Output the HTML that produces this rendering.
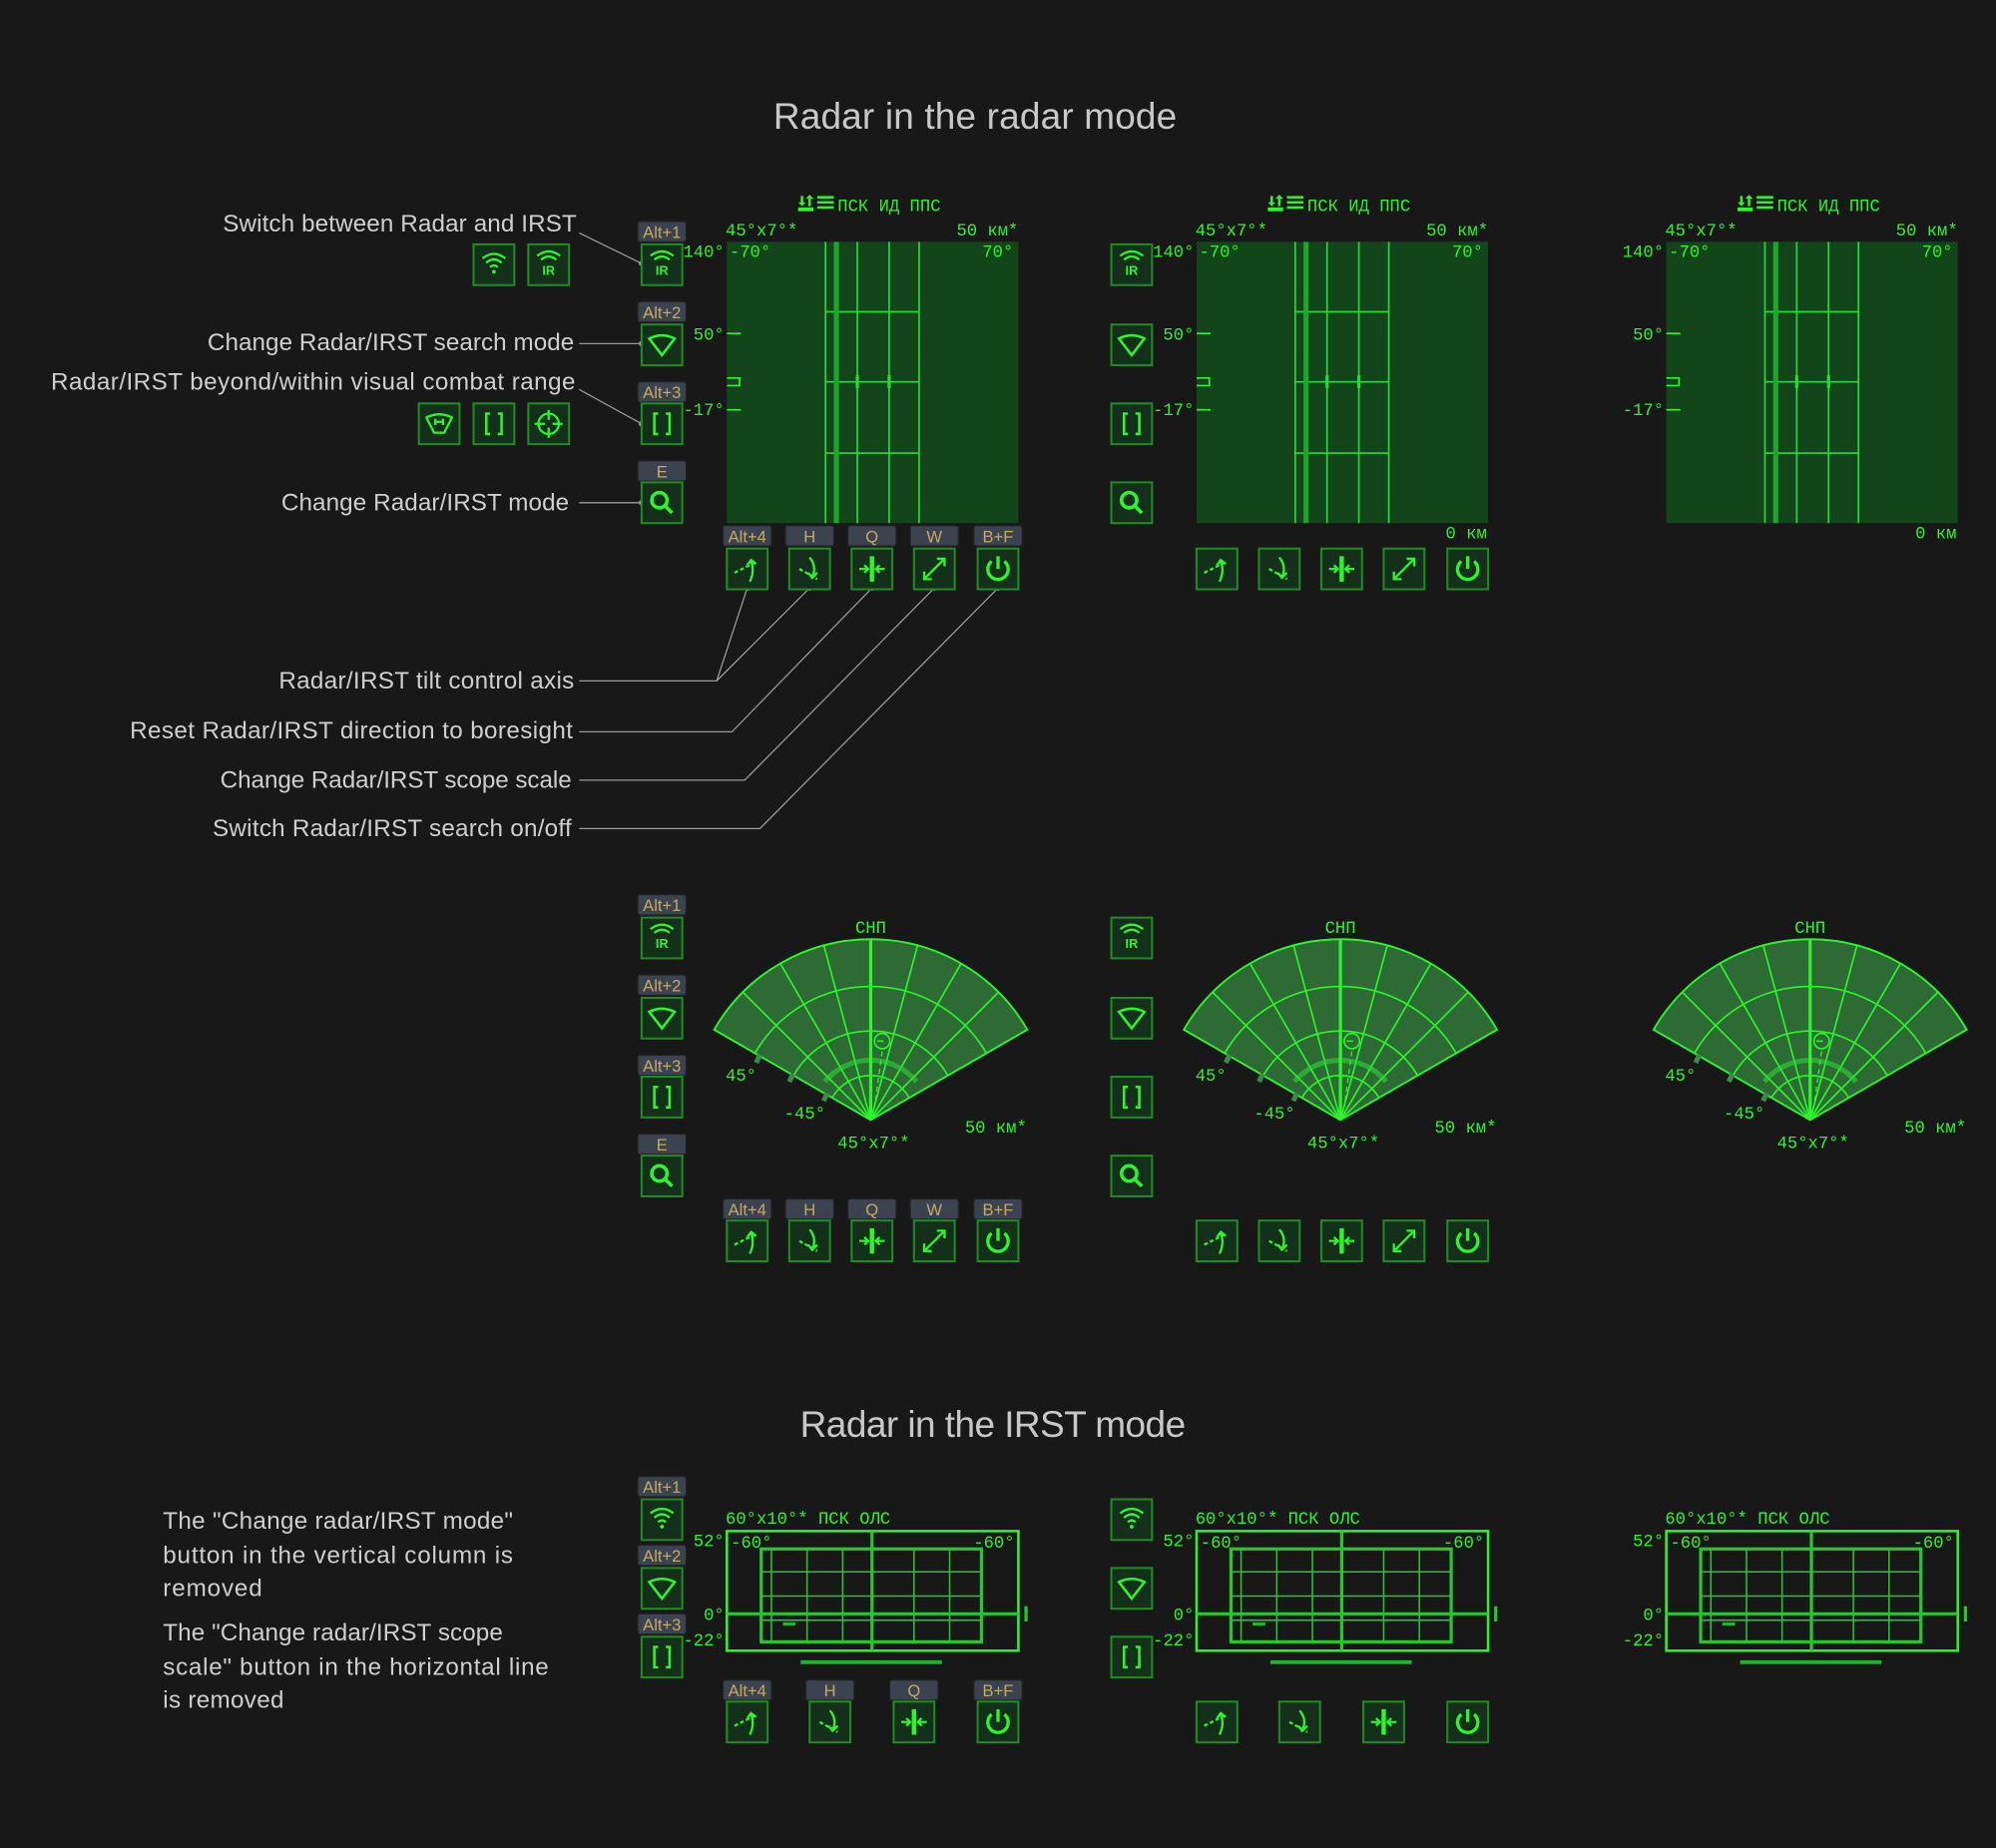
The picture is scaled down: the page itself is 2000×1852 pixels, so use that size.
<!DOCTYPE html>
<html><head><meta charset="utf-8"><style>
html,body{margin:0;padding:0;background:#181818;}
svg{display:block}
.t{font-family:"Liberation Sans",sans-serif;fill:#cfcfcf;font-size:19px}
.h{font-family:"Liberation Sans",sans-serif;fill:#c8c8c8;font-size:29px}
.g{font-family:"Liberation Mono",monospace;fill:#2bf52b;font-size:13.5px}
.k{font-family:"Liberation Sans",sans-serif;fill:#c9a85e;font-size:13px}
.ir{font-family:"Liberation Sans",sans-serif;fill:#2bf52b;font-size:10px;font-weight:bold}
</style></head><body>
<svg width="2000" height="1852" viewBox="0 0 1568 1452" xmlns="http://www.w3.org/2000/svg">
<defs>
<g id="btn"><rect x="-16" y="-16" width="32" height="32" fill="#15301a" stroke="#1e8c22" stroke-width="1.6"/></g>
<g id="key"><rect x="-19" y="-8" width="38" height="16" rx="2" fill="#3b4350" stroke="#222" stroke-width="1"/></g>
<g id="arcs" fill="none" stroke="#2bf52b" stroke-width="1.8"><path d="M-9,-5 Q0,-12 9,-5"/><path d="M-6,-2 Q0,-7 6,-2"/></g>
<g id="wifi" fill="none" stroke="#2bf52b" stroke-width="1.8"><path d="M-9,-5 Q0,-12 9,-5"/><path d="M-6,-1.5 Q0,-7 6,-1.5"/><path d="M-3,2 Q0,-1 3,2"/><circle cx="0" cy="5.5" r="1.5" fill="#2bf52b" stroke="none"/></g>
<g id="wedge" fill="none" stroke="#2bf52b" stroke-width="2"><path d="M-10,-5 Q0,-10 10,-5 L0,8 Z"/></g>
<g id="brk" fill="none" stroke="#2bf52b" stroke-width="2"><path d="M-3,-8 H-6 V8 H-3 M3,-8 H6 V8 H3"/></g>
<g id="srch" fill="none" stroke="#2bf52b" stroke-width="2.8"><circle cx="-2" cy="-2" r="6"/><path d="M2.5,2.5 L8,8"/></g>
<g id="tup" fill="none" stroke="#2bf52b" stroke-width="1.8"><path d="M-10,3 L6,-5" stroke-dasharray="3 2"/><path d="M2,10 Q6,2 3,-6 M0,-3 L3,-7 L7,-4"/></g>
<g id="tdn" fill="none" stroke="#2bf52b" stroke-width="1.8"><path d="M-8,0 L6,8" stroke-dasharray="3 2"/><path d="M0,-9 Q6,-2 2,7 M-1,3 L2,7 L6,3"/></g>
<g id="ctr" fill="none" stroke="#2bf52b" stroke-width="1.8"><path d="M0,-10 V10" stroke-width="3.5"/><path d="M-10,0 H-3 M-6,-3 L-3,0 L-6,3 M10,0 H3 M6,-3 L3,0 L6,3"/></g>
<g id="scl" fill="none" stroke="#2bf52b" stroke-width="1.8"><path d="M-8,8 L8,-8 M-8,2 V8 H-2 M2,-8 H8 V-2"/></g>
<g id="pwr" fill="none" stroke="#2bf52b" stroke-width="2.6"><path d="M0,-10 V0"/><path d="M-5,-6 A8,8 0 1 0 5,-6"/></g>
<g id="bvr" fill="none" stroke="#2bf52b" stroke-width="1.8"><path d="M-10,-5 Q0,-10 10,-5 L4,7 H-4 Z"/><path d="M-3,-4 V1 M3,-4 V1 M-3,-1.5 H3"/></g>
<g id="tgt" fill="none" stroke="#2bf52b" stroke-width="1.8"><circle r="8"/><path d="M0,-11 V-3 M0,3 V11 M-11,0 H-3 M3,0 H11"/></g>
<g id="scr">
<rect x="571" y="190" width="229" height="221" fill="#12461a"/>
<g stroke="#2bd83b" stroke-width="1.3" fill="none">
<path d="M648.5,190V411 M673.5,190V411 M698.5,190V411 M722,190V411"/>
<path d="M648.5,245H722 M648.5,300H722 M648.5,356H722"/>
</g>
<path d="M657,190V411" stroke="#1fa62a" stroke-width="4"/>
<path d="M673.5,295V305 M698.5,295V305" stroke="#2bd83b" stroke-width="2.5"/>
<g stroke="#2bf52b" stroke-width="1.3" fill="none"><path d="M571,262H582 M571,322H582 M571,297H581V303H571"/></g>
</g>
<g id="hdr"><g fill="#2bf52b"><rect x="627" y="163" width="12" height="3"/><path d="M629,154h2v5h2l-3,3l-3,-3h2z M635,162v-6h-2l3,-3l3,3h-2v6z"/><rect x="642" y="154" width="13" height="2"/><rect x="642" y="158" width="13" height="2"/><rect x="642" y="162" width="13" height="2"/></g></g>
<g id="sector">
<path d="M684,880 L561,809 A142,142 0 0 1 807,809 Z" fill="#2e6a34" stroke="#2bf52b" stroke-width="1.5"/>
<g fill="none" stroke="#2bf52b" stroke-width="1.3">
<path d="M593.1,827.5 A105,105 0 0 1 774.9,827.5"/>
<path d="M623.4,845 A70,70 0 0 1 744.6,845"/>
<path d="M653.7,862.5 A35,35 0 0 1 714.3,862.5"/>
<path d="M684,880 L720.8,742.8 M684,880 L647.2,742.8 M684,880 L755,757 M684,880 L613,757 M684,880 L784.4,779.6 M684,880 L583.6,779.6"/>
<circle cx="693" cy="818" r="6"/><path d="M689,818h5"/>
</g>
<path d="M648,849.8 A47,47 0 0 1 720,849.8" fill="none" stroke="#2bd83b" stroke-width="4" opacity="0.6"/>
<path d="M684,880 V738" stroke="#2bf52b" stroke-width="2.5"/>
<path d="M693,826 L687,870" stroke="#2bf52b" stroke-width="1" stroke-dasharray="4 3"/>
<g stroke="#3a8a4a" stroke-width="4"><path d="M597,829l-3,6 M623,844l-3,6 M650,859l-3,6"/></g>
</g>
<g id="irs">
<rect x="571" y="1203" width="229" height="94" fill="none" stroke="#2bf52b" stroke-width="2"/>
<rect x="598" y="1217" width="173" height="73" fill="none" stroke="#26c830" stroke-width="2.5"/>
<g stroke="#26c830" stroke-width="1.2"><path d="M606,1217V1290 M634,1217V1290 M662,1217V1290 M718,1217V1290 M746,1217V1290 M598,1235H771 M598,1254H771 M598,1273H771"/></g>
<path d="M685,1203V1297 M571,1268H800" stroke="#26c830" stroke-width="2.5"/>
<path d="M615,1276H625" stroke="#26b030" stroke-width="2.5"/>
<path d="M806,1262V1274" stroke="#26c830" stroke-width="2.5"/>
<path d="M629,1306H740" stroke="#26b030" stroke-width="3"/>
</g>
</defs>

<text class="h" x="766" y="101" text-anchor="middle" textLength="317">Radar in the radar mode</text>
<text class="h" x="780" y="1129" text-anchor="middle" textLength="303">Radar in the IRST mode</text>

<g class="t" text-anchor="end">
<text x="453" y="182" textLength="278">Switch between Radar and IRST</text>
<text x="451" y="275" textLength="288">Change Radar/IRST search mode</text>
<text x="452" y="306" textLength="412">Radar/IRST beyond/within visual combat range</text>
<text x="447" y="401" textLength="226">Change Radar/IRST mode</text>
<text x="451" y="541" textLength="232">Radar/IRST tilt control axis</text>
<text x="450" y="580" textLength="348">Reset Radar/IRST direction to boresight</text>
<text x="449" y="619" textLength="276">Change Radar/IRST scope scale</text>
<text x="449" y="657" textLength="282">Switch Radar/IRST search on/off</text>
</g>
<g class="t">
<text x="128" y="1201" textLength="275">The "Change radar/IRST mode"</text>
<text x="128" y="1228" textLength="275">button in the vertical column is</text>
<text x="128" y="1254" textLength="78">removed</text>
<text x="128" y="1289" textLength="267">The "Change radar/IRST scope</text>
<text x="128" y="1316" textLength="303">scale" button in the horizontal line</text>
<text x="128" y="1342" textLength="95">is removed</text>
</g>
<use href="#btn" x="388" y="208"/><use href="#wifi" x="388" y="208"/>
<use href="#btn" x="431" y="208"/><use href="#arcs" x="431" y="206"/><text class="ir" x="431" y="216" text-anchor="middle">IR</text>
<use href="#btn" x="345" y="333"/><use href="#bvr" x="345" y="333"/>
<use href="#btn" x="388" y="333"/><use href="#brk" x="388" y="333"/>
<use href="#btn" x="431" y="333"/><use href="#tgt" x="431" y="333"/>

<g fill="none" stroke="#9a9a9a" stroke-width="1">
<path d="M455,183 L504,207 M455,270 H504 M455,306 L504,333 M455,395 H504"/>
<path d="M455,535 H563 L587,462 M563,535 L636,462 M455,575 H575 L685,462 M455,613 H585 L734,462 M455,651 H597 L784,462"/>
</g>
<g fill="#9a9a9a"><circle cx="504" cy="207" r="2.2"/><circle cx="504" cy="270" r="2.2"/><circle cx="504" cy="333" r="2.2"/><circle cx="504" cy="395" r="2.2"/>
<circle cx="587" cy="462" r="2.2"/><circle cx="636" cy="462" r="2.2"/><circle cx="685" cy="462" r="2.2"/><circle cx="734" cy="462" r="2.2"/><circle cx="784" cy="462" r="2.2"/></g>

<use href="#scr"/><use href="#scr" x="369"/><use href="#scr" x="738"/>
<use href="#hdr"/><use href="#hdr" x="369"/><use href="#hdr" x="738"/>
<g class="g">
<text x="658" y="166">ПСК ИД ППС</text><text x="1027" y="166">ПСК ИД ППС</text><text x="1396" y="166">ПСК ИД ППС</text>
<text x="570" y="185">45°x7°*</text><text x="939" y="185">45°x7°*</text><text x="1308" y="185">45°x7°*</text>
<text x="800" y="185" text-anchor="end">50 км*</text><text x="1169" y="185" text-anchor="end">50 км*</text><text x="1538" y="185" text-anchor="end">50 км*</text>
<text x="569" y="202" text-anchor="end">140°</text><text x="938" y="202" text-anchor="end">140°</text><text x="1307" y="202" text-anchor="end">140°</text>
<text x="573" y="202">-70°</text><text x="942" y="202">-70°</text><text x="1311" y="202">-70°</text>
<text x="796" y="202" text-anchor="end">70°</text><text x="1165" y="202" text-anchor="end">70°</text><text x="1534" y="202" text-anchor="end">70°</text>
<text x="569" y="267" text-anchor="end">50°</text><text x="938" y="267" text-anchor="end">50°</text><text x="1307" y="267" text-anchor="end">50°</text>
<text x="569" y="326" text-anchor="end">-17°</text><text x="938" y="326" text-anchor="end">-17°</text><text x="1307" y="326" text-anchor="end">-17°</text>
<text x="1168" y="423" text-anchor="end">0 км</text><text x="1537" y="423" text-anchor="end">0 км</text>
</g>

<use href="#sector"/><use href="#sector" x="369"/><use href="#sector" x="738"/>
<g class="g">
<text x="684" y="733" text-anchor="middle">СНП</text><text x="1053" y="733" text-anchor="middle">СНП</text><text x="1422" y="733" text-anchor="middle">СНП</text>
<text x="570" y="849">45°</text><text x="939" y="849">45°</text><text x="1308" y="849">45°</text>
<text x="616" y="879">-45°</text><text x="985" y="879">-45°</text><text x="1354" y="879">-45°</text>
<text x="658" y="902">45°x7°*</text><text x="1027" y="902">45°x7°*</text><text x="1396" y="902">45°x7°*</text>
<text x="758" y="890">50 км*</text><text x="1127" y="890">50 км*</text><text x="1496" y="890">50 км*</text>
</g>

<use href="#irs"/><use href="#irs" x="369"/><use href="#irs" x="738"/>
<g class="g">
<text x="570" y="1197">60°x10°* ПСК ОЛС</text><text x="939" y="1197">60°x10°* ПСК ОЛС</text><text x="1308" y="1197">60°x10°* ПСК ОЛС</text>
<text x="569" y="1215" text-anchor="end">52°</text><text x="938" y="1215" text-anchor="end">52°</text><text x="1307" y="1215" text-anchor="end">52°</text>
<text x="569" y="1273" text-anchor="end">0°</text><text x="938" y="1273" text-anchor="end">0°</text><text x="1307" y="1273" text-anchor="end">0°</text>
<text x="569" y="1293" text-anchor="end">-22°</text><text x="938" y="1293" text-anchor="end">-22°</text><text x="1307" y="1293" text-anchor="end">-22°</text>
<text x="574" y="1216">-60°</text><text x="943" y="1216">-60°</text><text x="1312" y="1216">-60°</text>
<text x="797" y="1216" text-anchor="end">-60°</text><text x="1166" y="1216" text-anchor="end">-60°</text><text x="1535" y="1216" text-anchor="end">-60°</text>
</g>

<use href="#key" x="520" y="182"/><use href="#key" x="520" y="245"/><use href="#key" x="520" y="308"/><use href="#key" x="520" y="370"/>
<use href="#btn" x="520" y="208"/><use href="#arcs" x="520" y="206"/><text class="ir" x="520" y="216" text-anchor="middle">IR</text>
<use href="#btn" x="520" y="271"/><use href="#wedge" x="520" y="271"/>
<use href="#btn" x="520" y="333"/><use href="#brk" x="520" y="333"/>
<use href="#btn" x="520" y="395"/><use href="#srch" x="520" y="395"/>
<use href="#btn" x="889" y="208"/><use href="#arcs" x="889" y="206"/><text class="ir" x="889" y="216" text-anchor="middle">IR</text>
<use href="#btn" x="889" y="271"/><use href="#wedge" x="889" y="271"/>
<use href="#btn" x="889" y="333"/><use href="#brk" x="889" y="333"/>
<use href="#btn" x="889" y="395"/><use href="#srch" x="889" y="395"/>
<use href="#key" x="520" y="711"/><use href="#key" x="520" y="774"/><use href="#key" x="520" y="837"/><use href="#key" x="520" y="899"/>
<use href="#btn" x="520" y="737"/><use href="#arcs" x="520" y="735"/><text class="ir" x="520" y="745" text-anchor="middle">IR</text>
<use href="#btn" x="520" y="800"/><use href="#wedge" x="520" y="800"/>
<use href="#btn" x="520" y="862"/><use href="#brk" x="520" y="862"/>
<use href="#btn" x="520" y="924"/><use href="#srch" x="520" y="924"/>
<use href="#btn" x="889" y="737"/><use href="#arcs" x="889" y="735"/><text class="ir" x="889" y="745" text-anchor="middle">IR</text>
<use href="#btn" x="889" y="800"/><use href="#wedge" x="889" y="800"/>
<use href="#btn" x="889" y="862"/><use href="#brk" x="889" y="862"/>
<use href="#btn" x="889" y="924"/><use href="#srch" x="889" y="924"/>
<use href="#key" x="520" y="1168"/><use href="#key" x="520" y="1222"/><use href="#key" x="520" y="1276"/>
<use href="#btn" x="520" y="1194"/><use href="#wifi" x="520" y="1194"/>
<use href="#btn" x="520" y="1248"/><use href="#wedge" x="520" y="1248"/>
<use href="#btn" x="520" y="1302"/><use href="#brk" x="520" y="1302"/>
<use href="#btn" x="889" y="1194"/><use href="#wifi" x="889" y="1194"/>
<use href="#btn" x="889" y="1248"/><use href="#wedge" x="889" y="1248"/>
<use href="#btn" x="889" y="1302"/><use href="#brk" x="889" y="1302"/>

<use href="#key" x="587" y="421"/><use href="#key" x="636" y="421"/><use href="#key" x="685" y="421"/><use href="#key" x="734" y="421"/><use href="#key" x="784" y="421"/>
<use href="#key" x="587" y="950"/><use href="#key" x="636" y="950"/><use href="#key" x="685" y="950"/><use href="#key" x="734" y="950"/><use href="#key" x="784" y="950"/>
<use href="#key" x="587" y="1328"/><use href="#key" x="652" y="1328"/><use href="#key" x="718" y="1328"/><use href="#key" x="784" y="1328"/>
<g class="k" text-anchor="middle">
<text x="520" y="187">Alt+1</text><text x="520" y="250">Alt+2</text><text x="520" y="313">Alt+3</text><text x="520" y="375">E</text>
<text x="520" y="716">Alt+1</text><text x="520" y="779">Alt+2</text><text x="520" y="842">Alt+3</text><text x="520" y="904">E</text>
<text x="520" y="1173">Alt+1</text><text x="520" y="1227">Alt+2</text><text x="520" y="1281">Alt+3</text>
<text x="587" y="426">Alt+4</text><text x="636" y="426">H</text><text x="685" y="426">Q</text><text x="734" y="426">W</text><text x="784" y="426">B+F</text>
<text x="587" y="955">Alt+4</text><text x="636" y="955">H</text><text x="685" y="955">Q</text><text x="734" y="955">W</text><text x="784" y="955">B+F</text>
<text x="587" y="1333">Alt+4</text><text x="652" y="1333">H</text><text x="718" y="1333">Q</text><text x="784" y="1333">B+F</text>
</g>
<g>
<use href="#btn" x="587" y="447"/><use href="#tup" x="587" y="447"/><use href="#btn" x="636" y="447"/><use href="#tdn" x="636" y="447"/><use href="#btn" x="685" y="447"/><use href="#ctr" x="685" y="447"/><use href="#btn" x="734" y="447"/><use href="#scl" x="734" y="447"/><use href="#btn" x="784" y="447"/><use href="#pwr" x="784" y="447"/>
<use href="#btn" x="956" y="447"/><use href="#tup" x="956" y="447"/><use href="#btn" x="1005" y="447"/><use href="#tdn" x="1005" y="447"/><use href="#btn" x="1054" y="447"/><use href="#ctr" x="1054" y="447"/><use href="#btn" x="1103" y="447"/><use href="#scl" x="1103" y="447"/><use href="#btn" x="1153" y="447"/><use href="#pwr" x="1153" y="447"/>
<use href="#btn" x="587" y="975"/><use href="#tup" x="587" y="975"/><use href="#btn" x="636" y="975"/><use href="#tdn" x="636" y="975"/><use href="#btn" x="685" y="975"/><use href="#ctr" x="685" y="975"/><use href="#btn" x="734" y="975"/><use href="#scl" x="734" y="975"/><use href="#btn" x="784" y="975"/><use href="#pwr" x="784" y="975"/>
<use href="#btn" x="956" y="975"/><use href="#tup" x="956" y="975"/><use href="#btn" x="1005" y="975"/><use href="#tdn" x="1005" y="975"/><use href="#btn" x="1054" y="975"/><use href="#ctr" x="1054" y="975"/><use href="#btn" x="1103" y="975"/><use href="#scl" x="1103" y="975"/><use href="#btn" x="1153" y="975"/><use href="#pwr" x="1153" y="975"/>
<use href="#btn" x="587" y="1353"/><use href="#tup" x="587" y="1353"/><use href="#btn" x="652" y="1353"/><use href="#tdn" x="652" y="1353"/><use href="#btn" x="718" y="1353"/><use href="#ctr" x="718" y="1353"/><use href="#btn" x="784" y="1353"/><use href="#pwr" x="784" y="1353"/>
<use href="#btn" x="956" y="1353"/><use href="#tup" x="956" y="1353"/><use href="#btn" x="1021" y="1353"/><use href="#tdn" x="1021" y="1353"/><use href="#btn" x="1087" y="1353"/><use href="#ctr" x="1087" y="1353"/><use href="#btn" x="1153" y="1353"/><use href="#pwr" x="1153" y="1353"/>
</g>
</svg>
</body></html>
